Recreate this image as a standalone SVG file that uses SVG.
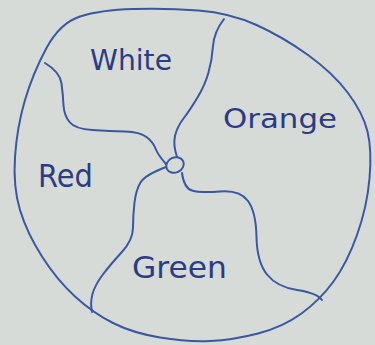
<svg xmlns="http://www.w3.org/2000/svg" width="375" height="345" viewBox="0 0 375 345">
  <style>
    .ink { fill: none; stroke: #3a57a3; stroke-width: 2; stroke-linecap: round; stroke-linejoin: round; }
    .lbl { fill: #2c3b84; font-family: "DejaVu Sans", "Liberation Sans", sans-serif; }
  </style>
  <rect x="0" y="0" width="375" height="345" fill="#d7dbd8"/>
  <g id="outline">
    <path class="ink" d="M46.5,48 Q60,23 80,16.5 Q100,10 133.5,9 Q167,8 198.5,10.5 Q230,13 256.5,25 Q283,37 308,55 Q333,73 348,93 Q363,113 367.5,131.5 Q372,150 369.5,178.5 Q367,207 357,235 Q347,263 333.5,281.5 Q320,300 301.5,313.5 Q283,327 258,333.5 Q233,340 210,341 Q187,342 160,337.5 Q133,333 113,323 Q93,313 75,296.5 Q57,280 42,256.5 Q27,233 20,210 Q13,187 15,157 Q17,127 25,100 Q33,73 46.5,48 Z"/>
  </g>
  <g id="borders">
    <path class="ink" d="M45,63 Q60,72 61.5,83.5 Q63,95 63.5,105 Q64,115 69.5,122 Q75,129 92.5,130 Q110,131 125,131.5 Q140,132 146.5,137 Q153,142 155.5,148.5 Q158,155 166,164"/>
    <path class="ink" d="M224,19 Q214,32 213,46 Q212,60 208.5,72.5 Q205,85 197.5,97.5 Q190,110 183.5,118.5 Q177,127 175,136 Q173,145 177,157"/>
    <path class="ink" d="M166,167 Q145,175 140.5,182.5 Q136,190 134.5,202.5 Q133,215 133,227.5 Q133,240 121.5,252.5 Q110,265 102.5,275 Q95,285 92.5,294 Q90,303 92,312"/>
    <path class="ink" d="M182,173 Q184,188 192,190.5 Q200,193 220,191.5 Q240,190 248,201 Q256,212 256.5,237 Q257,262 267,274.5 Q277,287 297,290 Q317,293 322,300"/>
    <ellipse class="ink" cx="175" cy="165" rx="9" ry="7.5" transform="rotate(-25 175 165)"/>
  </g>
  <g id="white"><text class="lbl" x="90" y="70" font-size="28" textLength="82" lengthAdjust="spacingAndGlyphs">White</text></g>
  <g id="orange"><text class="lbl" x="223" y="128" font-size="27" textLength="114" lengthAdjust="spacingAndGlyphs">Orange</text></g>
  <g id="red"><text class="lbl" x="38" y="187" font-size="32" textLength="55" lengthAdjust="spacingAndGlyphs">Red</text></g>
  <g id="green"><text class="lbl" x="132" y="278" font-size="30" textLength="95" lengthAdjust="spacingAndGlyphs">Green</text></g>
</svg>
